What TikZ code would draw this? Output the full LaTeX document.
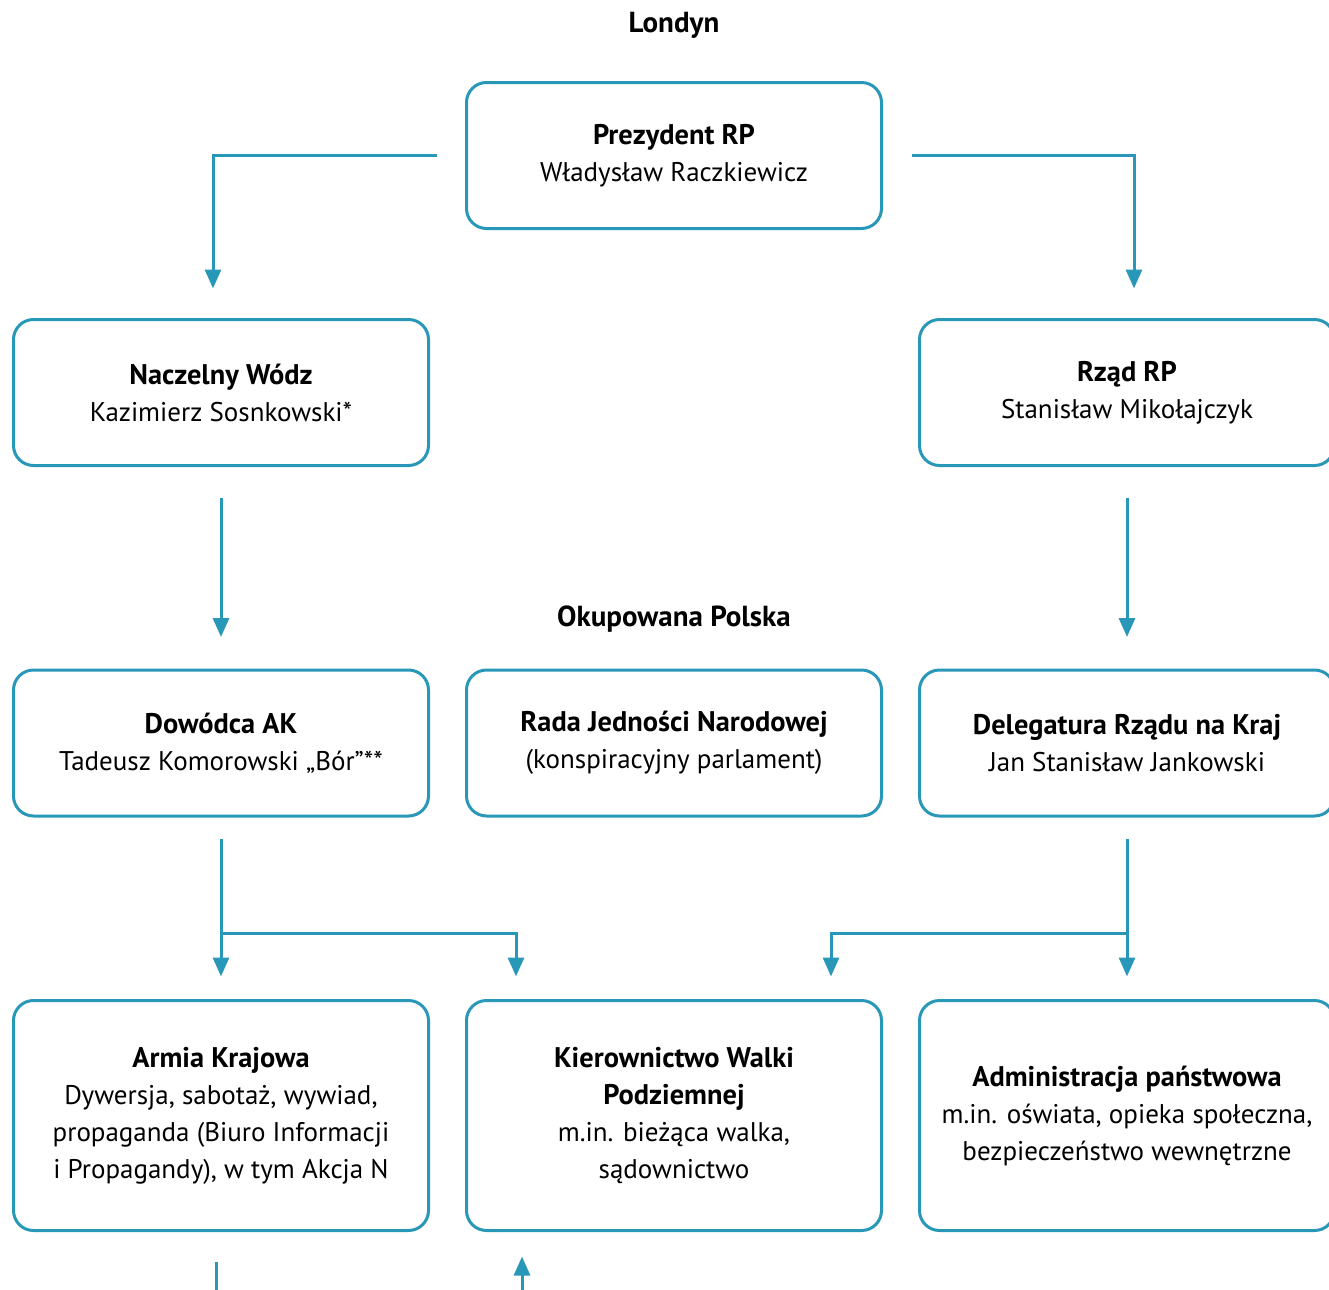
\documentclass[tikz,border=0pt]{standalone}
\usepackage{fontspec}
\setmainfont{PT Sans}
\usetikzlibrary{positioning}
\usetikzlibrary{arrows.meta,calc}
\definecolor{akblue}{RGB}{41,152,184}
\newcommand\boxtitle[1]{{\fontsize{14.2}{18.5}\selectfont\bfseries #1}}
\tikzstyle{box}=[draw=akblue,line width=1.5pt,rounded corners=10pt,minimum width=207.5pt,align=center,inner sep=0pt,font=\fontsize{13.5}{18.5}\selectfont]
\tikzstyle{smallbox}=[box,minimum height=73pt]
\tikzstyle{bigbox}=[box,minimum height=115pt]
\tikzstyle{conn}=[draw=akblue,line width=1.5pt]
\tikzstyle{arr}=[conn,-{Triangle[length=9.5pt,width=8pt]}]
\tikzstyle{head}=[font=\bfseries\fontsize{14.5}{16}\selectfont]

\begin{document}
\begin{tikzpicture}[x=0.5pt,y=-0.5pt]
\useasboundingbox (0,0) rectangle (1329,1290);

%Londyn
\node[head] (londyn) at (674,25) {Londyn};
    \foreach \pos/\name/\title/\sub in {{(674,155.5)/prez/Prezydent RP/Władysław Raczkiewicz},
      {(221,392.5)/nw/Naczelny Wódz/Kazimierz Sosnkowski*}, {(1127,392.5)/rzad/Rząd RP/Stanisław Mikołajczyk}}
        \node[smallbox] (\name) at \pos {\boxtitle{\title}\\\sub};

%Okupowana Polska
\node[head] (okup) at (674,619) {Okupowana Polska};
    \foreach \pos/\name/\title/\sub in {{(221,743)/dow/Dowódca AK/Tadeusz Komorowski „Bór”**},
      {(674,743)/rjn/Rada Jedności Narodowej/(konspiracyjny parlament)},
      {(1127,743)/del/Delegatura Rządu na Kraj/Jan Stanisław Jankowski}}
        \node[smallbox] (\name) at \pos {\boxtitle{\title}\\\sub};

\node[bigbox] (ak) at (221,1115.5) {\boxtitle{Armia Krajowa}\\Dywersja, sabotaż, wywiad,\\propaganda (Biuro Informacji\\i Propagandy), w tym Akcja N};
\node[bigbox] (kwp) at (674,1115.5) {\boxtitle{Kierownictwo Walki}\\\boxtitle{Podziemnej}\\m.in. bieżąca walka,\\sądownictwo};
\node[bigbox] (adm) at (1127,1115.5) {\boxtitle{Administracja państwowa}\\m.in. oświata, opieka społeczna,\\bezpieczeństwo wewnętrzne};

%arrows
  \draw[arr, shorten <=14.25pt, shorten >=14.75pt] (prez.west) -| ([xshift=-4pt]nw.north);
  \draw[arr, shorten <=14.25pt, shorten >=14.75pt] (prez.east) -| ([xshift=3.5pt]rzad.north);
  \foreach \source/\dest in {nw/dow, rzad/del}
          \draw[arr, shorten <=15.25pt, shorten >=15.75pt] (\source) -- (\dest);
  \foreach \source/\dest in {dow/ak, del/adm}
          \draw[arr, shorten <=10.75pt, shorten >=11.25pt] (\source) -- (\dest);
\coordinate (dsplit) at (221,933);
\coordinate (esplit) at (1127,933);
  \draw[arr, shorten >=11.25pt] (dsplit) -| ([xshift=-79pt]kwp.north);
  \draw[arr, shorten >=11.25pt] (esplit) -| ([xshift=78.5pt]kwp.north);

\coordinate (akout) at (216,1290);
\coordinate (kwpin) at (522,1290);
  \draw[conn, shorten <=14.75pt] (ak.south -| akout) -- (akout);
  \draw[arr, shorten >=12.25pt] (kwpin) -- (kwp.south -| kwpin);

\end{tikzpicture}
\end{document}
